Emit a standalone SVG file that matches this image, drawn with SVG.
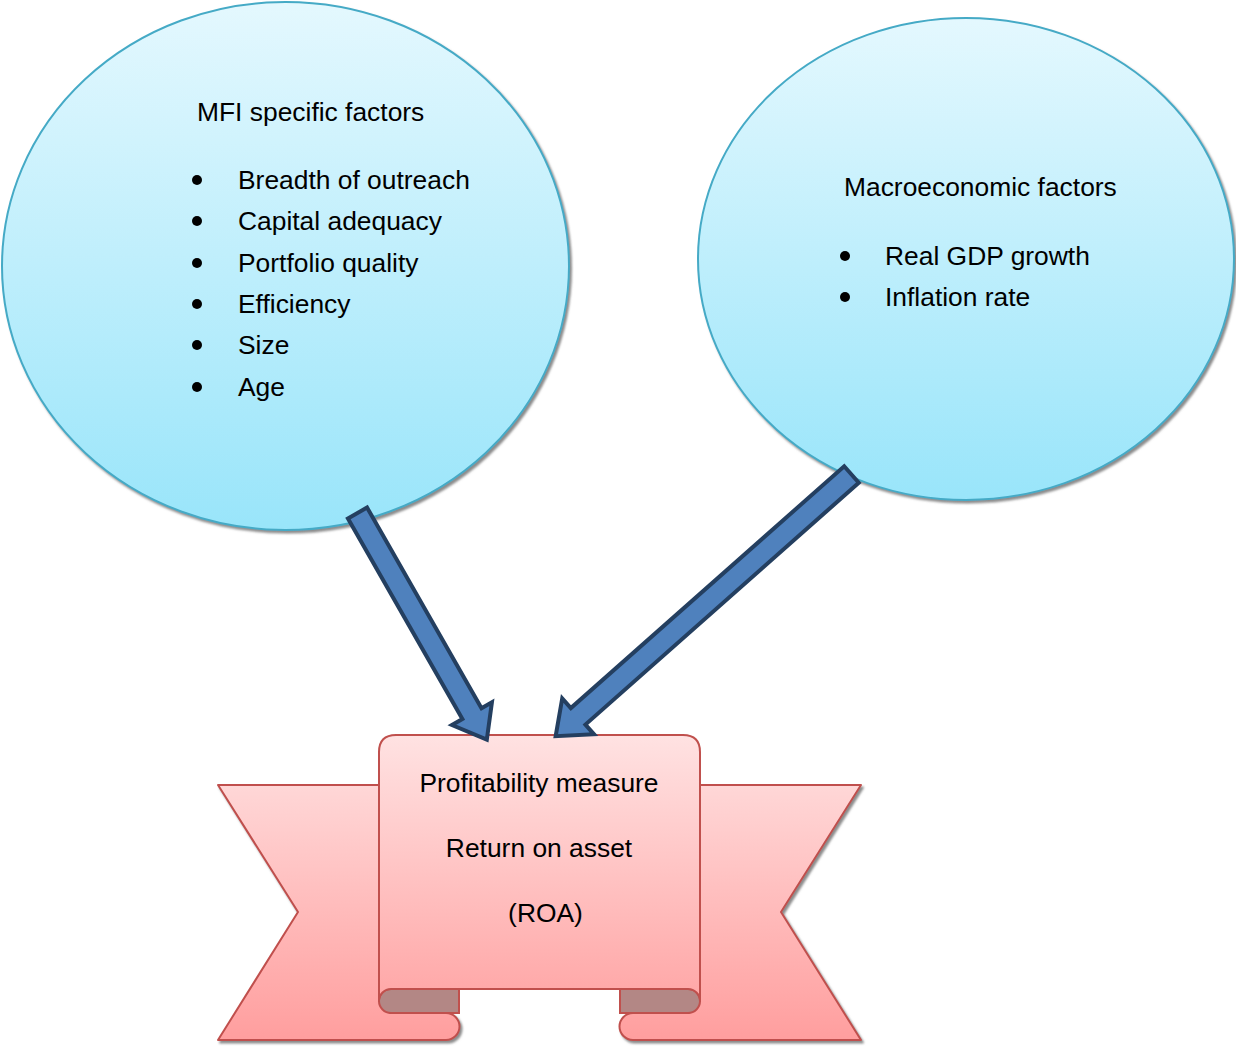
<svg xmlns="http://www.w3.org/2000/svg" width="1236" height="1046" viewBox="0 0 1236 1046">
<defs>
<linearGradient id="blueFill" x1="0" y1="0" x2="0" y2="1">
<stop offset="0" stop-color="#E4F8FE"/>
<stop offset="1" stop-color="#99E5FA"/>
</linearGradient>
<linearGradient id="pinkFill" gradientUnits="userSpaceOnUse" x1="0" y1="735" x2="0" y2="1040">
<stop offset="0" stop-color="#FFE2E2"/>
<stop offset="1" stop-color="#FF9E9E"/>
</linearGradient>
<filter id="shadow" x="-5%" y="-5%" width="110%" height="110%">
<feDropShadow dx="2" dy="2.5" stdDeviation="0.8" flood-color="#7f7f7f" flood-opacity="0.9"/>
</filter>
<style>
.bubble{fill:url(#blueFill);stroke:#45AAC6;stroke-width:2;filter:url(#shadow)}
.rib{fill:url(#pinkFill);stroke:#C0504D;stroke-width:2;stroke-linejoin:round}
.fold{fill:#B38785;stroke:#C0504D;stroke-width:2}
.arrow{fill:#4F81BD;stroke:#243F60;stroke-width:4;stroke-linejoin:miter}
.t{font-family:"Liberation Sans",Arial,sans-serif;font-size:26.4px;fill:#000}
.dot{fill:#000}
</style>
</defs>

<g id="node-mfi">
<ellipse class="bubble" cx="285.5" cy="266" rx="283.5" ry="264"/>
<text class="t" x="197" y="121">MFI specific factors</text>
<circle class="dot" cx="197" cy="180" r="5"/>
<text class="t" x="238" y="189">Breadth of outreach</text>
<circle class="dot" cx="197" cy="221" r="5"/>
<text class="t" x="238" y="230">Capital adequacy</text>
<circle class="dot" cx="197" cy="263" r="5"/>
<text class="t" x="238" y="272">Portfolio quality</text>
<circle class="dot" cx="197" cy="304" r="5"/>
<text class="t" x="238" y="313">Efficiency</text>
<circle class="dot" cx="197" cy="345" r="5"/>
<text class="t" x="238" y="354">Size</text>
<circle class="dot" cx="197" cy="387" r="5"/>
<text class="t" x="238" y="396">Age</text>
</g>

<g id="node-macro">
<ellipse class="bubble" cx="966" cy="259" rx="268" ry="241"/>
<text class="t" x="844" y="196">Macroeconomic factors</text>
<circle class="dot" cx="845" cy="256" r="5"/>
<text class="t" x="885" y="265">Real GDP growth</text>
<circle class="dot" cx="845" cy="297" r="5"/>
<text class="t" x="885" y="306">Inflation rate</text>
</g>

<g id="node-roa">
<g filter="url(#shadow)">
<path class="rib" d="M218,785 H390 V1013 H446 A13.5,13.5 0 0 1 446,1040 H218 L298,912 Z"/>
<path class="rib" d="M861,785 H689 V1013 H633 A13.5,13.5 0 0 0 633,1040 H861 L781,912 Z"/>
</g>
<path class="fold" d="M459,989 V1013 H391 A12,12 0 0 1 391,989 Z"/>
<path class="fold" d="M620,989 V1013 H688 A12,12 0 0 0 688,989 Z"/>
<path class="rib" d="M379,1001 V752 Q379,735 396,735 H683 Q700,735 700,752 V1001 A12,12 0 0 0 688,989 H391 A12,12 0 0 0 379,1001 Z"/>
<text class="t" x="539" y="792" text-anchor="middle">Profitability measure</text>
<text class="t" x="539" y="857" text-anchor="middle">Return on asset</text>
<text class="t" x="545.5" y="922" text-anchor="middle">(ROA)</text>
</g>

<g id="connectors">
<polygon class="arrow" transform="translate(357.5,513) rotate(60.3)" points="0,-11 231,-11 231,-23 261,0 231,23 231,11 0,11"/>
<polygon class="arrow" transform="translate(851.5,474.5) rotate(138.5)" points="0,-11 365,-11 365,-24 395,0 365,24 365,11 0,11"/>
</g>
</svg>
